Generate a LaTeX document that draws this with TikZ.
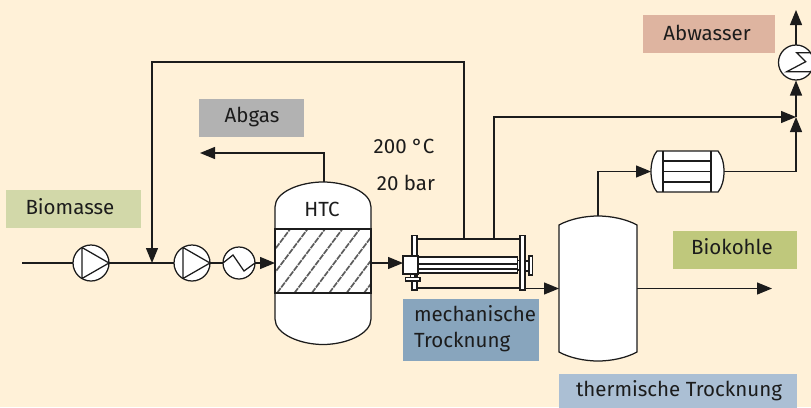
\documentclass[tikz,border=0pt]{standalone}
\usepackage{fontspec}
\setmainfont{Fira Sans}
\usetikzlibrary{arrows.meta,calc}
\definecolor{bg}{HTML}{FFF1D8}
\definecolor{ink}{HTML}{1C1C1C}
\definecolor{tbiomasse}{HTML}{D2D8A9}
\definecolor{tabgas}{HTML}{B2B2B2}
\definecolor{tabwasser}{HTML}{DEB4A0}
\definecolor{tbiokohle}{HTML}{BFC87C}
\definecolor{tmech}{HTML}{88A5BD}
\definecolor{ttherm}{HTML}{ABBFD4}
\tikzset{
  lab/.style={anchor=center,inner sep=0pt,outer sep=0pt,font=\fontsize{20.5}{26}\selectfont,text=ink},
  tagbox/.style={lab,minimum height=38pt},
  flow/.style={draw=ink,line width=1.25pt},
  arr/.style={flow,-{Triangle[length=15pt,width=12pt]}},
  equip/.style={draw=ink,fill=white,line width=1.25pt},
  holder/.style={inner sep=0pt,outer sep=0pt,draw=none,fill=none},
  hatchline/.style={draw=ink!72,line width=1.7pt,dash pattern=on 6pt off 1pt},
}
\begin{document}
\begin{tikzpicture}[x=1pt,y=-1pt]
\useasboundingbox (0,0) rectangle (811,407);
\fill[bg] (0,0) rectangle (811,407);
\begin{scope}
\clip (0,0) rectangle (811,407);
% label panels
\node[tagbox,fill=tbiomasse,minimum width=135pt] (lbio) at (73.5,209) {};
\node[lab,anchor=west] (lbiot) at (25.5,207) {Biomasse};
\node[tagbox,fill=tabgas,minimum width=105pt] (labg) at (251.5,118) {};
\node[lab] (labgt) at (252,117) {Abgas};
\node[tagbox,fill=tabwasser,minimum width=132pt] (labw) at (709,34) {};
\node[lab] (labwt) at (707,33) {Abwasser};
\node[tagbox,fill=tbiokohle,minimum width=124pt] (lkoh) at (735,249.5) {};
\node[lab] (lkoht) at (732,247) {Biokohle};
\node[tagbox,fill=tmech,minimum width=136pt,minimum height=62pt] (lmec) at (471,330) {};
\node[lab,align=left,anchor=west] (lmect) at (414,329) {mechanische\\Trocknung};
\node[tagbox,fill=ttherm,minimum width=238pt,minimum height=34pt] (lthe) at (678,391) {};
\node[lab] (lthet) at (679,391) {thermische Trocknung};
\node[lab] (tt) at (404,146) {200 °C};
\node[lab] (tp) at (406,183) {20 bar};

% anchors for equipment
\coordinate (in) at (22,263);
\node[holder,circle,minimum size=36pt] (p1) at (91,263) {};
\node[holder,circle,minimum size=36pt] (p2) at (192,263) {};
\node[holder,circle,minimum size=32pt] (hx) at (239,263) {};
\node[holder,minimum width=96pt,minimum height=163pt] (htc) at (323,263) {};
\node[holder,minimum width=15pt,minimum height=18pt] (drive) at (410.5,265) {};
\coordinate (junc) at (152,263);
\coordinate (rectop) at (464,239);
\coordinate (recr) at (464,62);
\coordinate (recl) at (152,62);
\coordinate (abg1) at (324,182);
\coordinate (abg2) at (324,153);
\coordinate (abg3) at (200,153);
\coordinate (fil1) at (494,239);
\coordinate (fil2) at (494,117);
\coordinate (merge) at (796,117);
\node[holder,circle,minimum size=36pt] (cond) at (796,62.5) {};
\coordinate (top) at (796,10);
\node[holder,minimum width=73pt,minimum height=41pt] (cool) at (687.5,171.5) {};
\coordinate (coolr) at (724,171.5);
\coordinate (cooll) at (651,171.5);
\coordinate (tcorner) at (796,171.5);
\coordinate (d1) at (598,216);
\coordinate (d2) at (598,171.5);
\coordinate (mout) at (505,288.5);
\coordinate (dl) at (559,288.5);
\coordinate (dr) at (637,288.5);
\coordinate (prod) at (772,288.5);

% connectors
\draw[flow] (in) -- (p1.center);
\draw[flow] (p1.center) -- (p2.center);
\draw[flow] (p2.center) -- (hx.center);
\draw[arr] (hx.east) -- (htc.west);
\draw[arr] (rectop) -- (recr) -- (recl) -- (junc);
\draw[arr] (abg1) -- (abg2) -- (abg3);
\draw[arr] (htc.east |- 0,263) -- (drive.west |- 0,263);
\draw[arr] (mout) -- (dl);
\draw[arr] (dr) -- (prod);
\draw[arr] (fil1) -- (fil2) -- (merge);
\draw[arr] (d1) -- (d2) -- (cooll);
\draw[arr] (coolr) -- (tcorner) -- (merge);
\draw[arr] (merge) -- (cond.south);
\draw[arr] (cond.north) -- (top);

% pumps
\foreach \n in {p1,p2}{
  \draw[equip] (\n) circle (18);
  \draw[flow,line join=round] ($(\n)+(-9,-15.5)$) -- ($(\n)+(18,0)$) -- ($(\n)+(-9,15.5)$) -- cycle;
}
% heat exchanger with wave
\draw[equip] (hx) circle (16);
\draw[flow] ($(hx)+(-16,0)$) -- ($(hx)+(-6,-8)$) -- ($(hx)+(5,8)$) -- ($(hx)+(16,0)$);

% HTC vessel
\draw[equip] (275,207) .. controls (275,192) and (300,182) .. (323,182)
  .. controls (346,182) and (371,192) .. (371,207) -- (371,319)
  .. controls (371,334) and (346,344.5) .. (323,344.5)
  .. controls (300,344.5) and (275,334) .. (275,319) -- cycle;
\begin{scope}
\clip (275,229) rectangle (371,293);
\foreach \k in {-3,...,7}{
  \draw[hatchline] ({277+\k*17.4},293) -- ({277+\k*17.4+48},229);
}
\end{scope}
\draw[flow] (275,229) rectangle (371,293);
\node[lab] (htcl) at (322,209) {HTC};

% mechanical dryer
\draw[flow] (417,239) -- (520,239);
\draw[flow,line width=1.8pt] (417,288) -- (520,288);
\draw[equip] (412,235.5) rectangle (417,290);
\draw[equip] (520,235.5) rectangle (525,290);
\draw[equip] (417,257) rectangle (517.5,273);
\draw[flow,line width=2pt] (417,263.5) -- (517.5,263.5);
\draw[flow,line width=2pt] (417,269) -- (517.5,269);
\draw[equip] (517.5,260.5) rectangle (520,270);
\draw[equip] (525,261) rectangle (529,271);
\draw[equip] (529,256) rectangle (532.5,275);
\draw[equip] (410.5,274) rectangle (415,277.5);
\draw[equip] (405.5,277.5) rectangle (420,281);
\draw[equip] (drive.north west) rectangle (drive.south east);

% condenser
\draw[equip] (cond) circle (17.5);
\draw[flow,line join=miter] (811,52.7) -- (796.7,52.7) -- (805.7,61.7) -- (786.7,71.7) -- (811,71.7);

% cooler
\draw[equip] (657,151) -- (718,151) .. controls (726,160) and (726,183) .. (718,192) -- (657,192)
  .. controls (649,183) and (649,160) .. (657,151) -- cycle;
\foreach \y in {161,171.5,182}{\draw[flow] (663,\y) -- (711,\y);}
\draw[flow] (663,151) -- (663,192);
\draw[flow] (711,151) -- (711,192);

% thermal dryer
\draw[equip] (559,225) .. controls (570,219) and (585,216) .. (598,216)
  .. controls (611,216) and (626,219) .. (637,225) -- (637,352)
  .. controls (626,358) and (611,361) .. (598,361)
  .. controls (585,361) and (570,358) .. (559,352) -- cycle;
\end{scope}
\end{tikzpicture}
\end{document}
